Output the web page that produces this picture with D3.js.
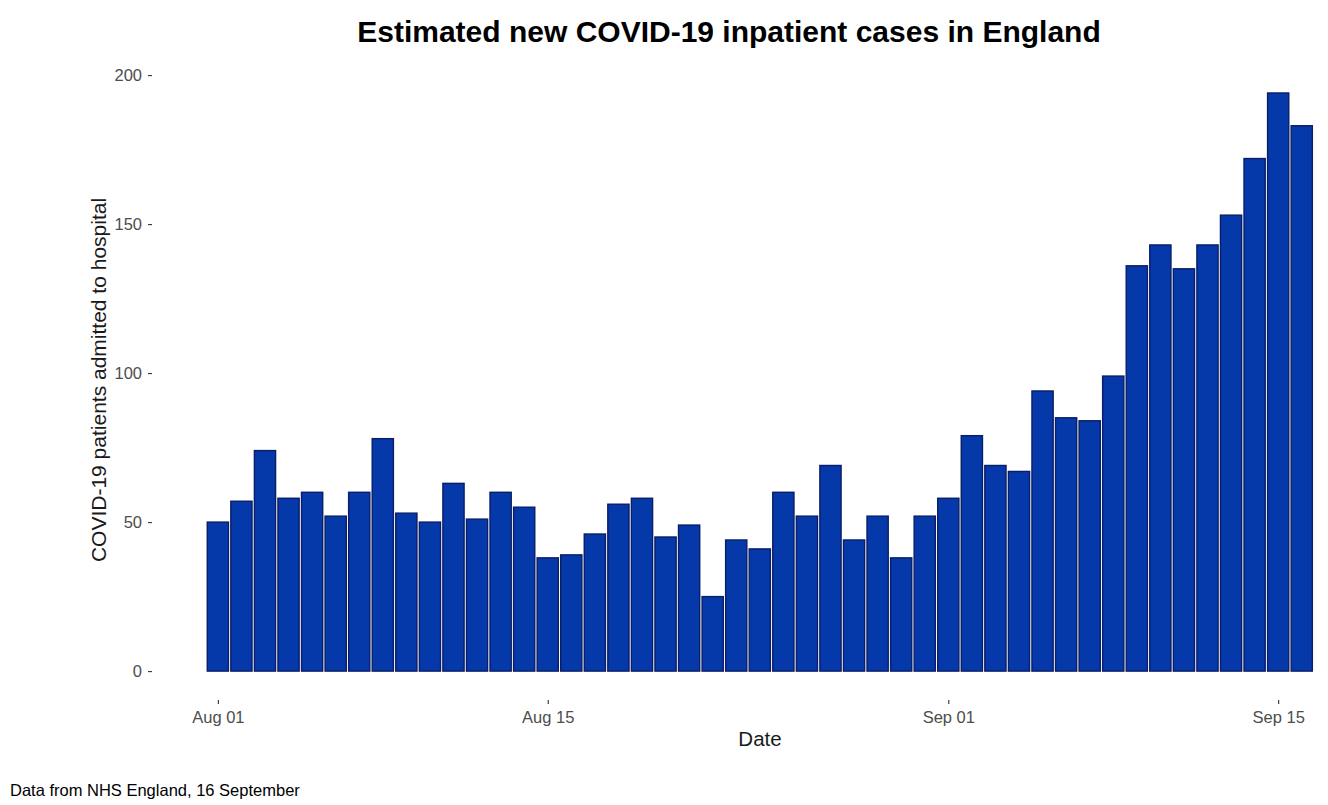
<!DOCTYPE html>
<html><head><meta charset="utf-8">
<script src="https://cdn.jsdelivr.net/npm/d3@7"></script>
<style>
body{margin:0;background:#fff}
svg{display:block;font-family:"Liberation Sans",Arial,Helvetica,sans-serif}
</style>
</head><body>
<svg id="chart" width="1328" height="805"></svg>
<script>
const dates = [
  "2020-08-01","2020-08-02","2020-08-03","2020-08-04","2020-08-05","2020-08-06","2020-08-07","2020-08-08",
  "2020-08-09","2020-08-10","2020-08-11","2020-08-12","2020-08-13","2020-08-14","2020-08-15","2020-08-16",
  "2020-08-17","2020-08-18","2020-08-19","2020-08-20","2020-08-21","2020-08-22","2020-08-23","2020-08-24",
  "2020-08-25","2020-08-26","2020-08-27","2020-08-28","2020-08-29","2020-08-30","2020-08-31",
  "2020-09-01","2020-09-02","2020-09-03","2020-09-04","2020-09-05","2020-09-06","2020-09-07","2020-09-08",
  "2020-09-09","2020-09-10","2020-09-11","2020-09-12","2020-09-13","2020-09-14","2020-09-15","2020-09-16"
];
const admissions = [
  50, 57, 74, 58, 60, 52, 60, 78, 53, 50, 63, 51, 60, 55, 38, 39,
  46, 56, 58, 45, 49, 25, 44, 41, 60, 52, 69, 44, 52, 38, 52,
  58, 79, 69, 67, 94, 85, 84, 99, 136, 143, 135, 143, 153, 172, 194, 183
];
const xTickDates = ["2020-08-01","2020-08-15","2020-09-01","2020-09-15"];
const xTickLabels = ["Aug 01","Aug 15","Sep 01","Sep 15"];
const yTickValues = [0, 50, 100, 150, 200];

const title = "Estimated new COVID-19 inpatient cases in England";
const yTitle = "COVID-19 patients admitted to hospital";
const xTitle = "Date";
const caption = "Data from NHS England, 16 September";

const parse = d3.utcParse("%Y-%m-%d");
const data = dates.map((d, i) => ({date: parse(d), value: admissions[i]}));

const svg = d3.select("#chart");
const DAY = 864e5;

// panel geometry (ggplot-like with 5% expansion)
const panelL = 152, panelR = 1367.6, panelB = 700;
const first = data[0].date, last = data[data.length - 1].date;
const span = (last - first) / DAY + 0.9;
const pad = span * 0.05 + 0.45;
const x = d3.scaleUtc()
  .domain([new Date(+first - pad * DAY), new Date(+last + pad * DAY)])
  .range([panelL, panelR]);
const yMax = d3.max(admissions);
const y = d3.scaleLinear()
  .domain([-yMax * 0.05, yMax * 1.05])
  .range([panelB, panelB - (yMax * 1.1) * 2.98]);

const barW = x(new Date(+first + 0.9 * DAY)) - x(first);

svg.append("g").selectAll("rect")
  .data(data)
  .join("rect")
  .attr("x", d => x(d.date) - barW / 2)
  .attr("width", barW)
  .attr("y", d => y(d.value))
  .attr("height", d => y(0) - y(d.value))
  .attr("fill", "#0539AA")
  .attr("stroke", "#0A1D66")
  .attr("stroke-width", 1.4);

// x axis
const xAxis = d3.axisBottom(x)
  .tickValues(xTickDates.map(parse))
  .tickFormat((d, i) => xTickLabels[i])
  .tickSize(4)
  .tickPadding(7);
const gx = svg.append("g").attr("transform", `translate(0,${panelB})`).call(xAxis);
gx.select(".domain").remove();
gx.selectAll(".tick line").attr("stroke", "#333333").attr("stroke-width", 1.1);
gx.selectAll(".tick text").attr("fill", "#4D4D4D").style("font-size", "16.5px")
  .style("font-family", '"Liberation Sans",Arial,sans-serif');

// y axis
const yAxis = d3.axisLeft(y)
  .tickValues(yTickValues)
  .tickSize(4)
  .tickPadding(6);
const gy = svg.append("g").attr("transform", `translate(${panelL},0)`).call(yAxis);
gy.select(".domain").remove();
gy.selectAll(".tick line").attr("stroke", "#333333").attr("stroke-width", 1.1);
gy.selectAll(".tick text").attr("fill", "#4D4D4D").style("font-size", "16.5px")
  .style("font-family", '"Liberation Sans",Arial,sans-serif');

// titles
svg.append("text")
  .attr("x", 729).attr("y", 42)
  .attr("text-anchor", "middle")
  .style("font-size", "30px").style("font-weight", "bold")
  .attr("fill", "#000")
  .text(title);

svg.append("text")
  .attr("transform", "translate(106,380) rotate(-90)")
  .attr("text-anchor", "middle")
  .style("font-size", "21px")
  .attr("fill", "#1a1a1a")
  .text(yTitle);

svg.append("text")
  .attr("x", 760).attr("y", 746)
  .attr("text-anchor", "middle")
  .style("font-size", "20.5px")
  .attr("fill", "#1a1a1a")
  .text(xTitle);

svg.append("text")
  .attr("x", 10).attr("y", 796)
  .style("font-size", "16.5px")
  .attr("fill", "#000")
  .text(caption);
</script>
</body></html>
